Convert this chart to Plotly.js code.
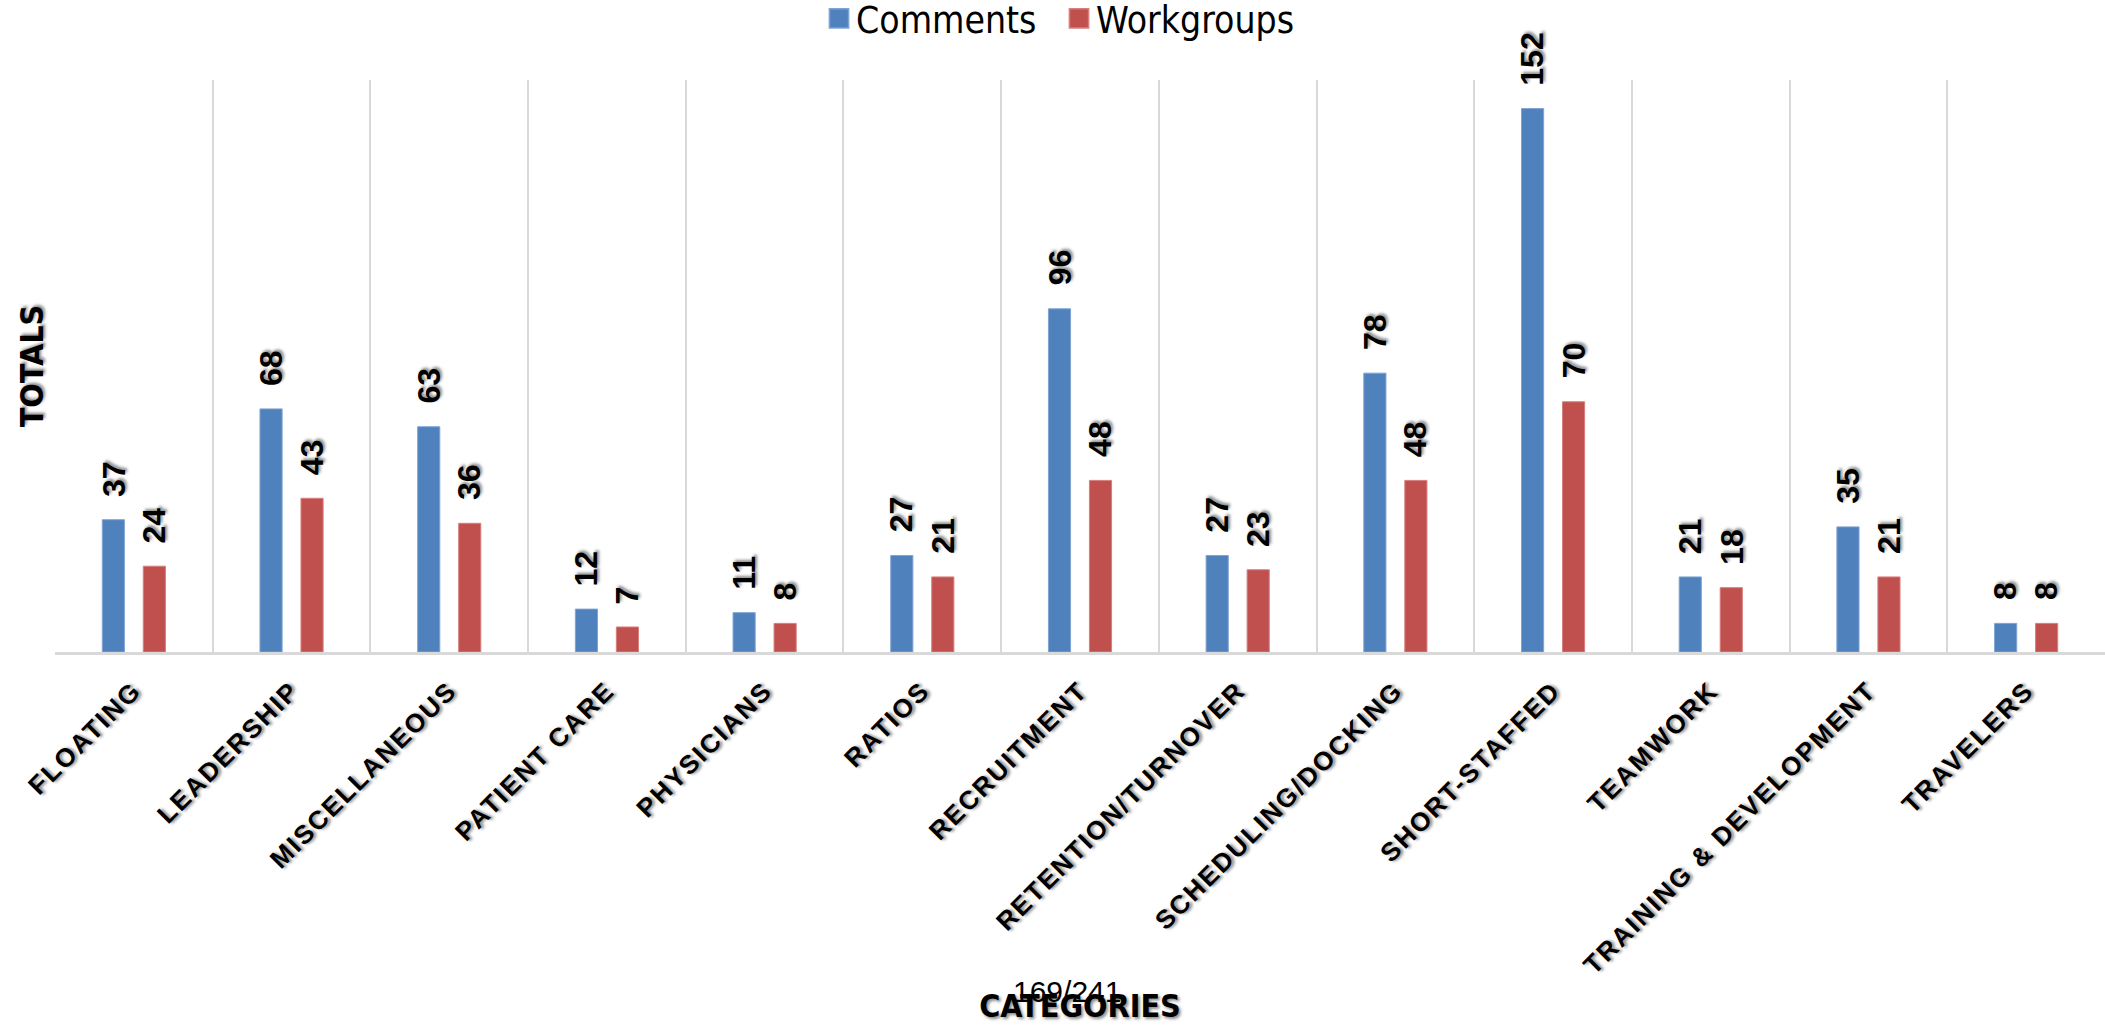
<!DOCTYPE html>
<html>
<head>
<meta charset="utf-8">
<script src="https://cdn.plot.ly/plotly-3.0.1.min.js"></script>
<style>
html, body { margin: 0; padding: 0; background: #ffffff; overflow: hidden; }
#chart { width: 2105px; height: 1025px; }
.xtick text { letter-spacing: 2px; }
.legendpoints path { transform-box: fill-box; transform-origin: center; scale: 1.6; translate: -9px 0; }
</style>
</head>
<body>
<div id="chart"></div>
<script>
var categories = ["FLOATING", "LEADERSHIP", "MISCELLANEOUS", "PATIENT CARE", "PHYSICIANS", "RATIOS",
  "RECRUITMENT", "RETENTION/TURNOVER", "SCHEDULING/DOCKING", "SHORT-STAFFED", "TEAMWORK",
  "TRAINING & DEVELOPMENT", "TRAVELERS"];
var comments = [37, 68, 63, 12, 11, 27, 96, 27, 78, 152, 21, 35, 8];
var workgroups = [24, 43, 36, 7, 8, 21, 48, 23, 48, 70, 18, 21, 8];
var seriesNames = ["Comments", "Workgroups"];
var pageLabel = "169/241";

var shadow = "2px 2px 3px rgba(0,0,0,0.45)";
var blue = "#4F81BD", red = "#C0504D";

var traces = [
  { type: "bar", name: seriesNames[0], x: categories, y: comments,
    marker: { color: blue, line: { color: "#7FA3D3", width: 1 } }, hoverinfo: "x+y" },
  { type: "bar", name: seriesNames[1], x: categories, y: workgroups,
    marker: { color: red, line: { color: "#D77F7D", width: 1 } }, hoverinfo: "x+y" }
];

var annotations = [];
function addLabels(vals, shift) {
  for (var i = 0; i < categories.length; i++) {
    annotations.push({
      x: categories[i], y: vals[i], xref: "x", yref: "y",
      text: String(vals[i]), showarrow: false, textangle: -90,
      xanchor: "center", yanchor: "bottom", xshift: shift, yshift: 21,
      font: { family: "Liberation Sans, Arial, sans-serif", size: 32, color: "#000", weight: "bold", shadow: shadow }
    });
  }
}
addLabels(comments, -20.5);
addLabels(workgroups, 20.5);
annotations.push({
  xref: "paper", yref: "paper", x: 0.4937, y: -0.594, xanchor: "center", yanchor: "middle",
  text: pageLabel, showarrow: false,
  font: { family: "Liberation Sans, Arial, sans-serif", size: 30, color: "#000" }
});

var titleFont = { family: "DejaVu Sans Condensed, DejaVu Sans, sans-serif", size: 32, color: "#000", weight: "bold", shadow: shadow };

var layout = {
  width: 2105, height: 1025,
  margin: { l: 55, r: 0, t: 80, b: 373, pad: 0, autoexpand: false },
  paper_bgcolor: "#ffffff", plot_bgcolor: "#ffffff",
  barmode: "group", bargap: 0.48, bargroupgap: 0.46,
  showlegend: true,
  legend: { orientation: "h", x: 0.4883, xanchor: "center", y: 1.107, yanchor: "middle",
    font: { family: "DejaVu Sans Condensed, DejaVu Sans, sans-serif", size: 37, color: "#000" },
    itemwidth: 30, tracegroupgap: 0, entrywidth: 195, entrywidthmode: "pixels" },
  xaxis: {
    type: "category", tickson: "boundaries", showgrid: true, gridcolor: "#D9D9D9", gridwidth: 2,
    showline: true, linecolor: "#D9D9D9", linewidth: 3, ticks: "", tickangle: -45, ticklabelstandoff: 10,
    tickfont: { family: "Liberation Sans, Arial, sans-serif", size: 26, color: "#000", weight: "bold", shadow: shadow },
    automargin: false, range: [-0.5, 12.5], fixedrange: true,
    title: { text: "CATEGORIES", standoff: 20, font: titleFont }
  },
  yaxis: {
    range: [0, 160], showgrid: false, zeroline: false, showline: false, showticklabels: false, ticks: "",
    automargin: false, fixedrange: true,
    title: { text: "TOTALS", standoff: 0, font: titleFont }
  },
  annotations: annotations
};

Plotly.newPlot("chart", traces, layout, { displayModeBar: false, staticPlot: true });
</script>
</body>
</html>
